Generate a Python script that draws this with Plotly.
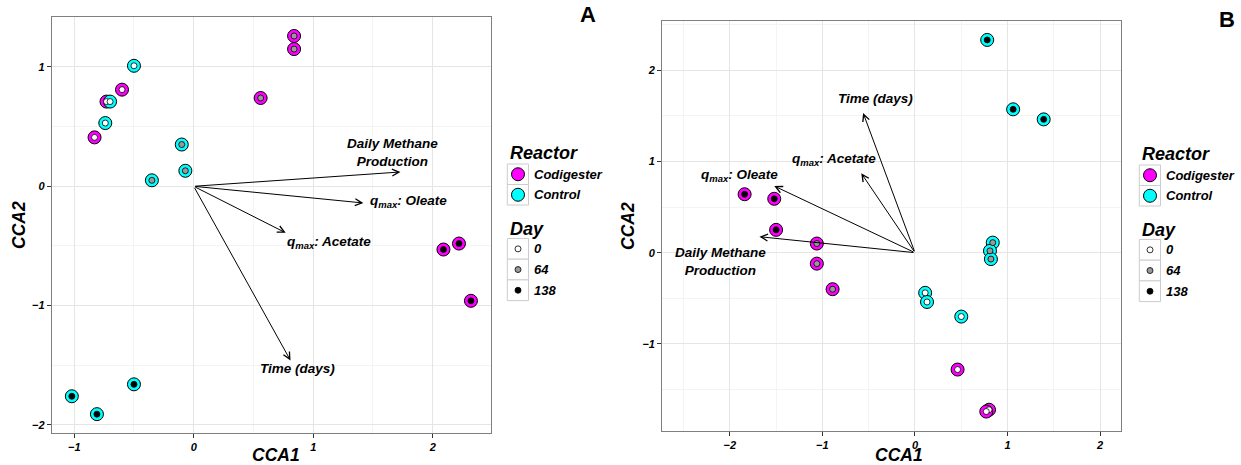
import plotly.graph_objects as go

# ---------------- data ----------------
reactor_names = ["Codigester", "Control"]
reactor_colors = ["#FF00FF", "#00FFFF"]
day_names = [0, 64, 138]
day_colors = ["#FFFFFF", "#999999", "#000000"]

# Panel A
A_cca1 = [0.84, 0.84, 0.56, -0.60, -0.73, -0.83, 2.09, 2.22, 2.32,
          -0.50, -0.70, -0.74, -0.10, -0.07, -0.35, -1.02, -0.81, -0.50]
A_cca2 = [1.26, 1.15, 0.74, 0.81, 0.71, 0.41, -0.53, -0.48, -0.96,
          1.01, 0.71, 0.53, 0.35, 0.13, 0.05, -1.76, -1.91, -1.66]
A_reactor = ["Codigester"] * 9 + ["Control"] * 9
A_day = [64, 64, 64, 0, 0, 0, 138, 138, 138,
         0, 0, 0, 64, 64, 64, 138, 138, 138]

A_vec_names = ["Daily Methane<br>Production", "q<sub>max</sub>: Oleate",
               "q<sub>max</sub>: Acetate", "Time (days)"]
A_vec_x = [1.73, 1.42, 0.77, 0.81]
A_vec_y = [0.12, -0.14, -0.39, -1.46]
A_lab_x = [1.66, 1.46, 1.13, 0.865]
A_lab_y = [0.28, -0.13, -0.475, -1.53]
A_lab_anchor = ["center", "left", "center", "center"]

# Panel B
B_cca1 = [-1.84, -1.52, -1.50, -1.06, -1.06, -0.89, 0.46, 0.80, 0.77,
          0.78, 1.06, 1.39, 0.84, 0.81, 0.82, 0.11, 0.13, 0.50]
B_cca2 = [0.64, 0.59, 0.25, 0.10, -0.12, -0.40, -1.28, -1.72, -1.74,
          2.33, 1.57, 1.46, 0.11, 0.02, -0.07, -0.44, -0.54, -0.70]
B_reactor = ["Codigester"] * 9 + ["Control"] * 9
B_day = [138, 138, 138, 64, 64, 64, 0, 0, 0,
         138, 138, 138, 64, 64, 64, 0, 0, 0]

B_vec_names = ["Time (days)", "q<sub>max</sub>: Acetate",
               "q<sub>max</sub>: Oleate", "Daily Methane<br>Production"]
B_vec_x = [-0.56, -0.58, -1.52, -1.68]
B_vec_y = [1.53, 0.87, 0.73, 0.175]
B_lab_x = [-0.43, -0.88, -1.89, -2.10]
B_lab_y = [1.69, 1.02, 0.84, -0.10]
B_lab_anchor = ["center", "center", "center", "center"]

# ---------------- layout helpers ----------------
W, H = 1241, 465
FONT = "Liberation Sans, Arial, sans-serif"


def px(x):
    return x / W


def py(y):
    return 1 - y / H


fig = go.Figure()

panels = [
    dict(xa="x", ya="y", cca1=A_cca1, cca2=A_cca2, reactor=A_reactor, day=A_day,
         vn=A_vec_names, vx=A_vec_x, vy=A_vec_y, lx=A_lab_x, ly=A_lab_y, la=A_lab_anchor),
    dict(xa="x2", ya="y2", cca1=B_cca1, cca2=B_cca2, reactor=B_reactor, day=B_day,
         vn=B_vec_names, vx=B_vec_x, vy=B_vec_y, lx=B_lab_x, ly=B_lab_y, la=B_lab_anchor),
]

annotations = []
shapes = []

for p in panels:
    # outer circles (reactor)
    for rn, rc in zip(reactor_names, reactor_colors):
        idx = [i for i, r in enumerate(p["reactor"]) if r == rn]
        fig.add_trace(go.Scatter(
            x=[p["cca1"][i] for i in idx], y=[p["cca2"][i] for i in idx],
            mode="markers", xaxis=p["xa"], yaxis=p["ya"], showlegend=False,
            marker=dict(size=13, color=rc, line=dict(color="black", width=1)),
            hoverinfo="skip"))
    # inner dots (day)
    for dn, dc in zip(day_names, day_colors):
        idx = [i for i, d in enumerate(p["day"]) if d == dn]
        fig.add_trace(go.Scatter(
            x=[p["cca1"][i] for i in idx], y=[p["cca2"][i] for i in idx],
            mode="markers", xaxis=p["xa"], yaxis=p["ya"], showlegend=False,
            marker=dict(size=6, color=dc, line=dict(color="black", width=0.8)),
            hoverinfo="skip"))
    # arrows
    for name, vx, vy, lx, ly, la in zip(p["vn"], p["vx"], p["vy"], p["lx"], p["ly"], p["la"]):
        annotations.append(dict(
            x=vx, y=vy, ax=0, ay=0, xref=p["xa"], yref=p["ya"],
            axref=p["xa"], ayref=p["ya"], text="", showarrow=True,
            arrowhead=5, arrowsize=1.35, arrowwidth=1, arrowcolor="black"))
        annotations.append(dict(
            x=lx, y=ly, xref=p["xa"], yref=p["ya"], text=name, showarrow=False,
            xanchor=la, yanchor="middle", align="center",
            font=dict(family=FONT, size=13.5, color="black", weight="bold", style="italic")))

# axis titles
for cx, cy in [(276, 455), (899, 455)]:
    annotations.append(dict(x=px(cx), y=py(cy), xref="paper", yref="paper", text="CCA1",
                            showarrow=False, xanchor="center", yanchor="middle",
                            font=dict(family=FONT, size=17.5, color="black",
                                      weight="bold", style="italic")))
for cx, cy in [(19, 225), (628, 226)]:
    annotations.append(dict(x=px(cx), y=py(cy), xref="paper", yref="paper", text="CCA2",
                            showarrow=False, xanchor="center", yanchor="middle", textangle=-90,
                            font=dict(family=FONT, size=17.5, color="black",
                                      weight="bold", style="italic")))

# panel letters
for letter, cx, cy in [("A", 588, 15), ("B", 1227, 20)]:
    annotations.append(dict(x=px(cx), y=py(cy), xref="paper", yref="paper", text=letter,
                            showarrow=False, xanchor="center", yanchor="middle",
                            font=dict(family=FONT, size=22, color="black", weight="bold")))

# manual legends
title_font = dict(family=FONT, size=18, color="black", weight="bold", style="italic")
lab_font = dict(family=FONT, size=13, color="black", weight="bold", style="italic")
for dx, dy in [(0, 0), (632, 1)]:
    bx0, bx1 = 507.3 + dx, 528.5 + dx
    cxk = 518 + dx
    # Reactor
    annotations.append(dict(x=px(508 + dx), y=py(153 + dy), xref="paper", yref="paper",
                            text="Reactor", showarrow=False, xanchor="left", yanchor="middle",
                            font=title_font))
    for k, (rn, rc) in enumerate(zip(reactor_names, reactor_colors)):
        y0 = 164 + dy + k * 20.5
        y1 = y0 + 20.5
        shapes.append(dict(type="rect", xref="paper", yref="paper",
                           x0=px(bx0), x1=px(bx1), y0=py(y0), y1=py(y1),
                           line=dict(color="#cccccc", width=1), fillcolor="white", layer="above"))
        yc = (y0 + y1) / 2
        shapes.append(dict(type="circle", xref="paper", yref="paper",
                           x0=px(cxk - 6.5), x1=px(cxk + 6.5), y0=py(yc - 6.5), y1=py(yc + 6.5),
                           line=dict(color="black", width=1), fillcolor=rc, layer="above"))
        annotations.append(dict(x=px(532 + dx), y=py(yc), xref="paper", yref="paper",
                                text=rn, showarrow=False, xanchor="left", yanchor="middle",
                                font=lab_font))
    # Day
    annotations.append(dict(x=px(508 + dx), y=py(228.5 + dy), xref="paper", yref="paper",
                            text="Day", showarrow=False, xanchor="left", yanchor="middle",
                            font=title_font))
    for k, (dn, dc) in enumerate(zip(day_names, day_colors)):
        y0 = 238.5 + dy + k * 20.7
        y1 = y0 + 20.7
        shapes.append(dict(type="rect", xref="paper", yref="paper",
                           x0=px(bx0), x1=px(bx1), y0=py(y0), y1=py(y1),
                           line=dict(color="#cccccc", width=1), fillcolor="white", layer="above"))
        yc = (y0 + y1) / 2
        shapes.append(dict(type="circle", xref="paper", yref="paper",
                           x0=px(cxk - 3), x1=px(cxk + 3), y0=py(yc - 3), y1=py(yc + 3),
                           line=dict(color="black", width=0.8), fillcolor=dc, layer="above"))
        annotations.append(dict(x=px(532 + dx), y=py(yc), xref="paper", yref="paper",
                                text=str(dn), showarrow=False, xanchor="left", yanchor="middle",
                                font=lab_font))

tickfont = dict(family=FONT, size=11, color="black", weight="bold", style="italic")


def axis(domain, rng, anchor):
    return dict(domain=domain, range=rng, anchor=anchor, dtick=1, tick0=0,
                showgrid=True, gridcolor="#e5e5e5", gridwidth=1,
                minor=dict(dtick=0.5, tick0=0, showgrid=True, gridcolor="#f4f4f4", gridwidth=1),
                zeroline=False, showline=True, linecolor="#7f7f7f", linewidth=1.3, mirror=True,
                ticks="outside", ticklen=4, tickcolor="#333333", tickwidth=1,
                tickfont=tickfont, tickformat="d")


fig.update_layout(
    width=W, height=H,
    margin=dict(l=0, r=0, t=0, b=0),
    paper_bgcolor="white", plot_bgcolor="white",
    showlegend=False,
    xaxis=axis([px(52), px(491)], [-1.186, 2.488], "y"),
    yaxis=axis([py(433), py(17)], [-2.068, 1.419], "x"),
    xaxis2=axis([px(662.3), px(1121)], [-2.729, 2.225], "y2"),
    yaxis2=axis([py(431), py(21.3)], [-1.953, 2.534], "x2"),
    annotations=annotations,
    shapes=shapes,
)

fig.write_html("out.html")
